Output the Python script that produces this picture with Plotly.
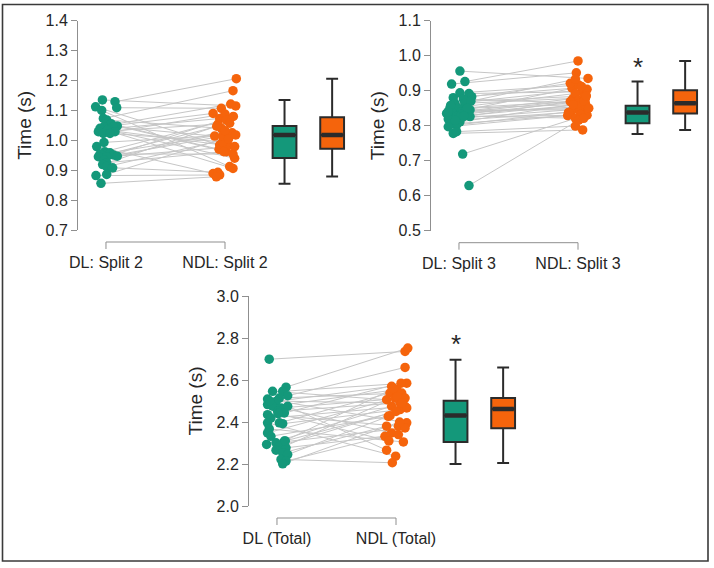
import plotly.graph_objects as go

# ---------------- data ----------------
cat_labels_1 = ["DL: Split 2", "NDL: Split 2"]
cat_labels_2 = ["DL: Split 3", "NDL: Split 3"]
cat_labels_3 = ["DL (Total)", "NDL (Total)"]

# Panel 1 : Split 2 (paired values, seconds)
dl_split2 = [1.135, 1.129, 1.112, 1.109, 1.100, 1.073, 1.068, 1.055, 1.051, 1.048, 1.045, 1.045,
             1.040, 1.038, 1.034, 1.029, 1.029, 1.023, 1.023, 0.993, 0.979, 0.962, 0.958, 0.954,
             0.951, 0.947, 0.945, 0.945, 0.934, 0.925, 0.919, 0.912, 0.908, 0.886, 0.882, 0.856]
ndl_split2 = [1.115, 1.206, 0.984, 1.107, 0.912, 1.166, 1.040, 0.970, 1.121, 0.962, 1.090, 1.014,
              0.906, 1.073, 0.982, 1.054, 0.940, 1.088, 0.995, 1.018, 0.889, 1.068, 1.025, 0.954,
              1.080, 0.979, 1.057, 1.014, 1.032, 0.962, 1.047, 1.005, 0.893, 1.018, 0.884, 0.878]
dl_split2_jit = [-0.03, 0.076, -0.087, 0.09, -0.036, -0.022, 0.006, 0.045, 0.034, 0.095, -0.017, 0.062,
                 -0.05, 0.02, 0.011, -0.064, 0.076, -0.022, 0.034, -0.017, -0.078, -0.01, 0.034, -0.05,
                 0.062, 0.095, -0.064, 0.006, -0.017, 0.006, -0.028, 0.006, 0.056, 0.006, -0.084, -0.042]
ndl_split2_jit = [0.09, 0.095, -0.045, -0.031, 0.039, 0.067, -0.031, -0.05, 0.048, 0.011, -0.1, -0.087,
                  0.067, -0.045, 0.025, -0.059, 0.081, 0.0, -0.02, 0.039, -0.1, 0.011, 0.06, 0.067,
                  0.07, 0.081, 0.039, -0.022, 0.0, -0.01, -0.07, 0.03, -0.06, 0.09, -0.045, -0.073]
# box stats: lower whisker, q1, median, q3, upper whisker
box_dl_split2 = [0.855, 0.941, 1.018, 1.048, 1.135]
box_ndl_split2 = [0.879, 0.972, 1.018, 1.077, 1.206]

# Panel 2 : Split 3
dl_split3 = [0.956, 0.919, 0.926, 0.880, 0.894, 0.892, 0.883, 0.876, 0.864, 0.864, 0.850, 0.850,
             0.845, 0.835, 0.840, 0.835, 0.826, 0.826, 0.826, 0.819, 0.811, 0.805, 0.802, 0.797,
             0.778, 0.783, 0.719, 0.629, 0.845, 0.858, 0.832, 0.870, 0.815, 0.850, 0.840, 0.828]
ndl_split3 = [0.935, 0.951, 0.985, 0.907, 0.916, 0.897, 0.921, 0.864, 0.904, 0.878, 0.892, 0.869,
              0.845, 0.873, 0.881, 0.854, 0.859, 0.830, 0.875, 0.847, 0.862, 0.832, 0.840, 0.829,
              0.788, 0.799, 0.821, 0.816, 0.912, 0.933, 0.870, 0.885, 0.838, 0.860, 0.850, 0.821]
dl_split3_jit = [0.008, -0.062, 0.05, -0.048, 0.008, 0.084, 0.107, 0.037, -0.034, 0.05, -0.076, -0.006,
                 0.093, -0.048, 0.022, -0.104, -0.02, 0.093, 0.037, -0.09, 0.008, -0.062, -0.02, -0.09,
                 -0.048, -0.02, 0.031, 0.084, 0.06, -0.07, 0.02, 0.1, -0.03, 0.07, -0.09, 0.04]
ndl_split3_jit = [0.084, -0.014, 0.0, -0.05, 0.006, 0.034, -0.065, 0.062, 0.076, -0.042, -0.022, -0.065,
                  0.048, 0.006, 0.048, 0.02, -0.022, 0.076, 0.06, -0.008, -0.01, 0.02, -0.06, -0.087,
                  0.039, -0.022, -0.022, 0.006, 0.03, -0.022, 0.05, 0.07, -0.08, -0.04, 0.09, 0.048]
box_dl_split3 = [0.776, 0.807, 0.838, 0.857, 0.926]
box_ndl_split3 = [0.788, 0.835, 0.864, 0.901, 0.985]

# Panel 3 : Total
dl_total = [2.699, 2.566, 2.546, 2.546, 2.525, 2.509, 2.514, 2.498, 2.483, 2.475, 2.467, 2.475,
            2.451, 2.443, 2.435, 2.419, 2.396, 2.396, 2.392, 2.367, 2.348, 2.332, 2.293, 2.301,
            2.309, 2.285, 2.277, 2.266, 2.253, 2.245, 2.222, 2.214, 2.201, 2.440, 2.500, 2.310]
ndl_total = [2.736, 2.752, 2.585, 2.506, 2.660, 2.396, 2.538, 2.570, 2.348, 2.554, 2.514, 2.266,
             2.491, 2.585, 2.380, 2.475, 2.538, 2.237, 2.459, 2.305, 2.514, 2.427, 2.475, 2.372,
             2.560, 2.467, 2.340, 2.520, 2.380, 2.430, 2.206, 2.332, 2.400, 2.310, 2.490, 2.450]
dl_total_jit = [-0.065, 0.076, 0.048, -0.037, 0.09, -0.079, 0.02, -0.008, -0.079, -0.037, 0.034, 0.09,
                0.006, 0.062, -0.079, -0.051, 0.02, -0.079, 0.048, -0.065, -0.079, -0.051, -0.087, -0.008,
                0.062, 0.02, 0.076, -0.008, 0.048, 0.09, 0.034, 0.076, 0.048, 0.01, -0.06, 0.07]
ndl_total_jit = [0.076, 0.099, 0.09, -0.079, 0.076, 0.09, 0.048, -0.037, -0.037, 0.006, 0.076, -0.079,
                 0.034, 0.042, 0.02, 0.076, -0.051, -0.003, 0.034, 0.062, -0.008, -0.065, -0.037, 0.076,
                 -0.02, 0.09, 0.02, 0.01, -0.079, -0.05, -0.031, -0.093, 0.03, -0.06, 0.05, 0.0]
box_dl_total = [2.200, 2.305, 2.431, 2.501, 2.697]
box_ndl_total = [2.205, 2.370, 2.462, 2.514, 2.660]

y_ranges = [[0.7, 1.4], [0.5, 1.1], [2.0, 3.0]]
y_dticks = [0.1, 0.1, 0.2]
star_y = [None, 0.985, 2.80]

# ---------------- style ----------------
GREEN = "#14987a"
ORANGE = "#f5640c"
LINE_GRAY = "#c6c6c6"
AXIS_GRAY = "#8f8f8f"
DARK = "#2b2b2b"
TEXT = "#262626"
FONT = "Liberation Sans, Arial, sans-serif"
W, H = 714, 568
X_RANGE = [0.765, 3.05]
BOX_POS = [2.5, 2.9]
BOX_W = 0.2

# panel geometry in pixels: (left, top, bottom)
panels_px = [(78, 20.7, 230.0), (431, 20.7, 230.7), (249, 296.0, 506.0)]
PLOT_W = 272

panels = [
    (cat_labels_1, dl_split2, ndl_split2, dl_split2_jit, ndl_split2_jit, box_dl_split2, box_ndl_split2),
    (cat_labels_2, dl_split3, ndl_split3, dl_split3_jit, ndl_split3_jit, box_dl_split3, box_ndl_split3),
    (cat_labels_3, dl_total, ndl_total, dl_total_jit, ndl_total_jit, box_dl_total, box_ndl_total),
]

fig = go.Figure()
layout = dict(width=W, height=H, margin=dict(l=0, r=0, t=0, b=0), autosize=False,
              paper_bgcolor="white", plot_bgcolor="white", showlegend=False,
              font=dict(family=FONT, color=TEXT))
shapes = []
annotations = []

for i, (labels, dl, ndl, jdl, jndl, bdl, bndl) in enumerate(panels):
    k = "" if i == 0 else str(i + 1)
    xa, ya = "x" + k, "y" + k
    left, top, bottom = panels_px[i]
    layout["xaxis" + k] = dict(
        domain=[left / W, (left + PLOT_W) / W], range=X_RANGE, anchor=ya,
        showline=False, showgrid=False, zeroline=False,
        tickmode="array", tickvals=[1, 2], ticktext=labels,
        ticks="outside", ticklen=18, tickcolor="rgba(0,0,0,0)",
        tickfont=dict(size=16, color=TEXT, family=FONT), automargin=False)
    layout["yaxis" + k] = dict(
        domain=[1 - bottom / H, 1 - top / H], range=y_ranges[i], anchor=xa,
        showline=True, linecolor=AXIS_GRAY, linewidth=1, showgrid=False, zeroline=False,
        ticks="outside", ticklen=6, tickcolor=AXIS_GRAY, tickwidth=1,
        dtick=y_dticks[i], tick0=0, tickformat=".1f",
        tickfont=dict(size=16, color=TEXT, family=FONT),
        title=dict(text="Time (s)", font=dict(size=19, color=TEXT, family=FONT), standoff=8),
        automargin=False)

    # connecting lines
    lx, ly = [], []
    for a, b, ja, jb in zip(dl, ndl, jdl, jndl):
        lx += [1 + ja, 2 + jb, None]
        ly += [a, b, None]
    fig.add_trace(go.Scatter(x=lx, y=ly, mode="lines", xaxis=xa, yaxis=ya,
                             line=dict(color=LINE_GRAY, width=1), hoverinfo="skip"))
    fig.add_trace(go.Scatter(x=[1 + j for j in jdl], y=dl, mode="markers", xaxis=xa, yaxis=ya,
                             marker=dict(color=GREEN, size=9.5, line=dict(width=0))))
    fig.add_trace(go.Scatter(x=[2 + j for j in jndl], y=ndl, mode="markers", xaxis=xa, yaxis=ya,
                             marker=dict(color=ORANGE, size=9.5, line=dict(width=0))))

    # boxes
    for pos, st, col in zip(BOX_POS, [bdl, bndl], [GREEN, ORANGE]):
        fig.add_trace(go.Box(x=[pos], lowerfence=[st[0]], q1=[st[1]], median=[st[2]],
                             q3=[st[3]], upperfence=[st[4]], width=BOX_W, whiskerwidth=0.5,
                             fillcolor=col, line=dict(color=DARK, width=2),
                             boxpoints=False, xaxis=xa, yaxis=ya))
        fig.add_trace(go.Scatter(x=[pos - BOX_W / 2 + 0.01, pos + BOX_W / 2 - 0.01],
                                 y=[st[2], st[2]], mode="lines", xaxis=xa, yaxis=ya,
                                 line=dict(color=DARK, width=4.5), hoverinfo="skip"))

    # x bracket
    yref = ya + " domain"
    ph = bottom - top
    y_h = -12.0 / ph
    y_t = -19.0 / ph
    shapes.append(dict(type="path", xref=xa, yref=yref,
                       path=f"M 1,{y_t} L 1,{y_h} L 2,{y_h} L 2,{y_t}",
                       line=dict(color=AXIS_GRAY, width=1)))

    if star_y[i] is not None:
        annotations.append(dict(x=BOX_POS[0], y=star_y[i], xref=xa, yref=ya, text="*",
                                showarrow=False, yanchor="middle", yshift=-6,
                                font=dict(size=26, color=TEXT, family=FONT)))

# outer frame
shapes.append(dict(type="rect", xref="paper", yref="paper",
                   x0=2.5 / W, x1=708 / W, y0=1 - 561 / H, y1=1 - 4.5 / H,
                   line=dict(color="#3a3a3a", width=1.6)))

layout["shapes"] = shapes
layout["annotations"] = annotations
fig.update_layout(**layout)
fig.write_html("out.html", config={"displayModeBar": False},
               post_script="document.body.style.margin='0';document.body.style.overflow='hidden';")
